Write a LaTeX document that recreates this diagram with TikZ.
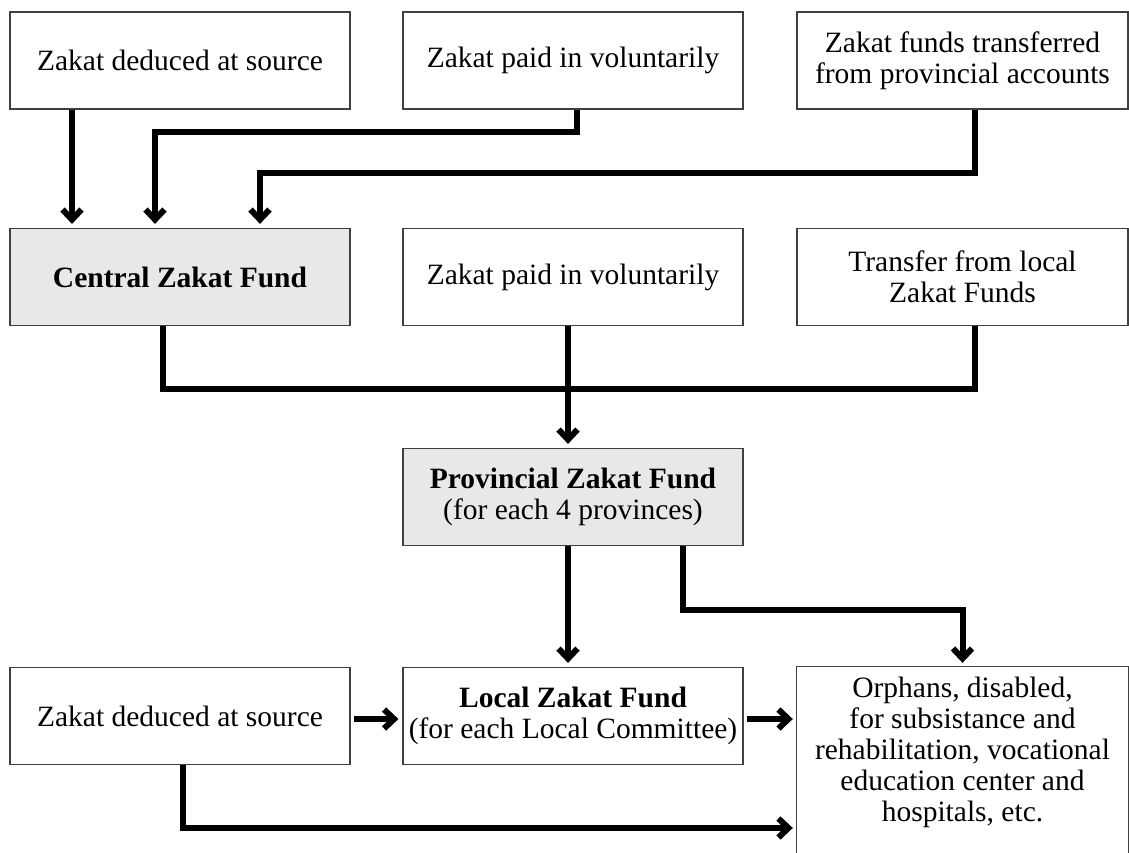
\documentclass[tikz,border=0pt]{standalone}
\usepackage{fontspec}
\setmainfont{Liberation Serif}
\usetikzlibrary{arrows.meta}
\definecolor{boxgrey}{HTML}{E8E8E8}
\definecolor{edgegrey}{HTML}{404040}
\begin{document}
\begin{tikzpicture}[x=1pt,y=-1pt,
  box/.style={draw=edgegrey, line width=1.2pt, inner sep=0pt, align=center,
    minimum width=340pt, minimum height=97pt,
    font=\fontsize{29.5}{31}\selectfont},
  greybox/.style={box, fill=boxgrey},
  frame/.style={inner sep=0pt, minimum width=331pt, minimum height=200pt},
  bodytext/.style={inner sep=0pt, align=center, font=\fontsize{29.5}{31}\selectfont},
  link/.style={line width=6pt, line cap=butt},
  flow/.style={link, -{Straight Barb[length=10pt,width=19pt]}, shorten >=4pt},
]
\useasboundingbox (0,0) rectangle (1129,852);
\fill[white] (0,0) rectangle (1129,852);

% row 1
\node[box] (a1) at (180,60.5) {Zakat deduced at source};
\node[box] (b1) at (573,60.5) {Zakat paid in voluntarily};
\node[box, minimum width=331pt] (c1) at (962.5,60.5) {Zakat funds transferred\\from provincial accounts};

% row 2
\node[greybox] (cz) at (180,277) {\bfseries Central Zakat Fund};
\node[box] (b2) at (573,277) {Zakat paid in voluntarily};
\node[box, minimum width=331pt] (c2) at (962.5,277) {Transfer from local\\Zakat Funds};

% row 3
\node[greybox] (pz) at (573,497) {\bfseries Provincial Zakat Fund\\(for each 4 provinces)};

% row 4
\node[box] (l4) at (180,716) {Zakat deduced at source};
\node[box] (lz) at (573,716) {\bfseries Local Zakat Fund\\(for each Local Committee)};
\node[frame] (rt) at (962.5,767) {};
\draw[edgegrey, line width=1.2pt] (rt.south west) -- (rt.north west) -- (rt.north east) -- (rt.south east);
\node[bodytext, anchor=north] (rtx) at ([yshift=-10pt]rt.north) {Orphans, disabled,\\for subsistance and\\rehabilitation, vocational\\education center and\\hospitals, etc.};

% connectors row 1 -> central
\draw[flow] ([xshift=-108pt]a1.south) -- ([xshift=-108pt]cz.north);
\draw[flow] ([xshift=4pt]b1.south) -- ++(0,22) -| ([xshift=-25pt]cz.north);
\draw[flow] ([xshift=12.5pt]c1.south) -- ++(0,63) -| ([xshift=80pt]cz.north);

% row 2 -> provincial
\draw[link] ([xshift=-17pt]cz.south) -- ++(0,63) -| ([xshift=12.5pt]c2.south);
\draw[flow] ([xshift=-5pt]b2.south) -- ([xshift=-5pt]pz.north);

% provincial -> row 4
\draw[flow] ([xshift=-5pt]pz.south) -- ([xshift=-5pt]lz.north);
\draw[flow] ([xshift=110pt]pz.south) -- ++(0,64) -| (rt.north);

% row 4
\draw[flow, shorten <=3pt] ([yshift=-3pt]l4.east) -- ([yshift=-3pt]lz.west);
\draw[flow, shorten <=3pt] ([yshift=-3pt]lz.east) -- ([yshift=-3pt]lz.east -| rt.west);
\draw[flow] ([xshift=3pt]l4.south) |- ([yshift=-61pt]rt.west);
\end{tikzpicture}
\end{document}
